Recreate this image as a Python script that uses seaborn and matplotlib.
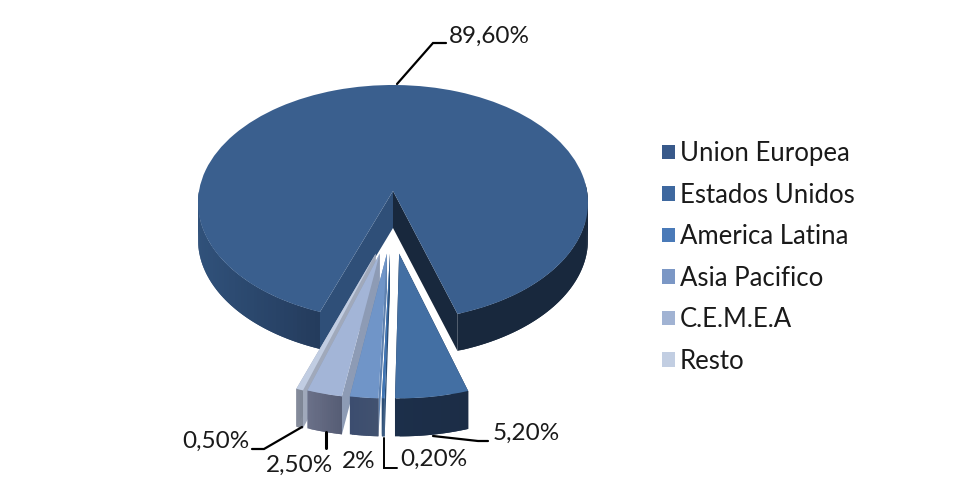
import numpy as np
import matplotlib
matplotlib.use("Agg")
import matplotlib.pyplot as plt
import seaborn as sns
from matplotlib.transforms import Transform
from matplotlib.colors import to_rgb
from matplotlib.patches import Patch

# ---- data ----
regions = ["Union Europea", "Estados Unidos", "America Latina", "Asia Pacifico", "C.E.M.E.A", "Resto"]
shares = [89.6, 5.2, 0.2, 2.0, 2.5, 0.5]
share_labels = ["89,60%", "5,20%", "0,20%", "2%", "2,50%", "0,50%"]

# ---- style ----
top_colors = ["#3a5f8e", "#436fa3", "#3f75b5", "#7095c8", "#a3b5d7", "#c1cde2"]
legend_colors = ["#38598a", "#3e689f", "#4a7ab8", "#7b97c5", "#a1b3d3", "#c2cee2"]
wall_colors = ["#2f4f78", "#1a2c46", "#2a4d76", "#5f82b0", "#8d9bb5", "#a0a9bb"]
side_left = ["#30517a", "#1c2f4a", "#2a4d76", "#3c4d6f", "#6a7088", "#868c9b"]
side_right = ["#18283d", "#1c2d46", "#2a4d76", "#42526f", "#555c74", "#7c8494"]
offset_u = [0.0, 0.03, -0.015, -0.03, -0.065, -0.085]
offset_v = [0.0, 0.51, 0.51, 0.51, 0.51, 0.51]
depths = [37.0, 38.0, 38.0, 38.0, 38.0, 38.0]
CX, CY, RX, RY, P = 393.0, 191.0, 194.0, 116.6, 0.10
START = 250.06

sns.set_theme(style="white")
plt.rcParams["font.family"] = ["Lato", "DejaVu Sans"]


def project(x, y):
    x, y = np.asarray(x, float), np.asarray(y, float)
    v = -y
    s = 1.0 / (1.0 - P * v)
    return CX + RX * x * s, CY + RY * v * s


class Perspective(Transform):
    input_dims = output_dims = 2
    is_separable = False
    has_inverse = False

    def transform_non_affine(self, values):
        a = np.asarray(values, float)
        px, py = project(a[:, 0], a[:, 1])
        return np.column_stack([px, py])


fig = plt.figure(figsize=(9.77, 4.99), dpi=100, facecolor="white")
ax = fig.add_axes([0, 0, 1, 1])
wedges, _ = ax.pie(shares, colors=top_colors, startangle=START, counterclock=False,
                   wedgeprops={"linewidth": 0})
ax.set_aspect("auto")
ax.set_xlim(0, 977)
ax.set_ylim(499, 0)
ax.axis("off")

persp = Perspective() + ax.transData
draw_order = [0, 5, 4, 3, 2, 1]
z = 2
for i in draw_order:
    w = wedges[i]
    cu, cv = offset_u[i], offset_v[i]
    depth = depths[i]
    w.set_center((cu, -cv))
    w.set_transform(persp)
    # cut walls
    for th in (w.theta1, w.theta2):
        ex, ey = cu + np.cos(np.radians(th)), -cv + np.sin(np.radians(th))
        x0, y0 = project(cu, -cv)
        x1, y1 = project(ex, ey)
        col = wall_colors[i]
        if i == 0 and x1 > x0:
            col = side_right[0]
        ax.fill([x0, x1, x1, x0], [y0, y1, y1 + depth, y0 + depth], color=col, lw=0, zorder=z)
    # outer rim as overlapping shaded strips (so no seams appear)
    n = 240 if i == 0 else 16
    ths = np.linspace(w.theta1, w.theta2, n + 1)
    xs, ys = project(cu + np.cos(np.radians(ths)), -cv + np.sin(np.radians(ths)))
    l, r = np.array(to_rgb(side_left[i])), np.array(to_rgb(side_right[i]))
    for k in range(n):
        if i == 0 and ys[k] < CY - 5:
            continue
        k2 = min(k + 2, n)
        if i == 0:
            d = (xs[k] - CX) / RX
            if d < 0:
                t = np.clip((d + 1) / 0.62, 0, 1)
                c = l + (np.array(to_rgb("#243b5c")) - l) * t
            else:
                c = r
        else:
            t = (xs[k] - xs.min()) / max(xs.max() - xs.min(), 1e-6)
            c = l + (r - l) * t
        ax.fill([xs[k], xs[k2], xs[k2], xs[k]],
                [ys[k], ys[k2], ys[k2] + depth, ys[k] + depth],
                color=tuple(c), lw=0, zorder=z + 1 + k * 1e-4)
    w.set_zorder(z + 2)
    z += 3

# ---- labels and leader lines ----
label_pos = {0: (449, 36), 1: (493, 433), 2: (342, 461), 3: (342, 461), 4: (266, 465), 5: (182, 441)}
label_pos[2] = (400, 459)
leaders = {
    0: ([397, 433, 446], [84, 43, 43], 1.6),
    1: ([433, 478, 488], [436, 441, 441], 1.6),
    2: ([384, 384, 397], [438, 468, 468], 1.4),
    4: ([326, 326], [432, 448], 2.2),
    5: ([302, 264, 252], [427, 449, 449], 1.6),
}
for i, (px, py) in label_pos.items():
    ax.text(px, py, share_labels[i], fontsize=17.5, color="#1a1a1a", ha="left", va="center", zorder=100)
for i, (lx, ly, lw) in leaders.items():
    ax.plot(lx, ly, color="black", lw=lw, zorder=99, solid_joinstyle="miter")

# ---- legend ----
handles = [Patch(facecolor=c, edgecolor="none") for c in legend_colors]
ax.legend(handles, regions, loc="upper left", bbox_to_anchor=(662 / 977, 1 - 141 / 499),
          frameon=False, fontsize=18.5, labelcolor="#1a1a1a", handlelength=0.5, handleheight=0.5,
          handletextpad=0.2, labelspacing=0.645, borderpad=0, borderaxespad=0)

fig.savefig("out.png", dpi=100, facecolor="white")
